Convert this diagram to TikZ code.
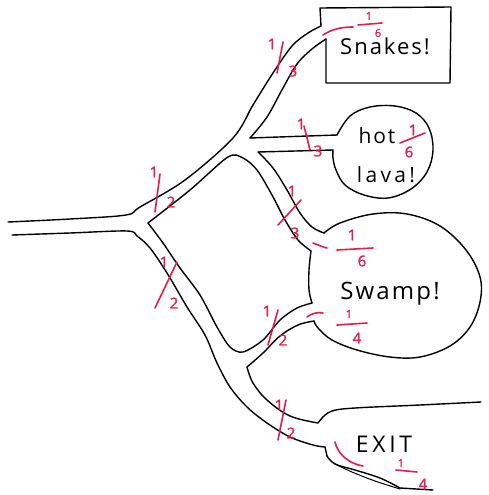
\documentclass[tikz,border=0pt]{standalone}
\usepackage{fontspec}
\setmainfont{Open Sans}
\newfontfamily\handfont[LetterSpace=9]{Open Sans}
\newfontfamily\widehand[LetterSpace=16]{Open Sans}
\newfontfamily\digitfont[FakeBold=1.5]{Open Sans}
\definecolor{redink}{RGB}{228,30,72}
\tikzset{
  ink/.style={line width=1.4pt, line cap=round, line join=round},
  pen/.style={draw=redink, line width=1.6pt, line cap=round},
  word/.style={font=\handfont\fontsize{21}{23}\selectfont, inner sep=0pt, anchor=base},
  digit/.style={text=redink, font=\digitfont\fontsize{15}{15}\selectfont, inner sep=0pt},
  digitsm/.style={digit, font=\digitfont\fontsize{11}{11}\selectfont},
}
\begin{document}
\begin{tikzpicture}[x=1pt,y=-1pt]
\useasboundingbox (0,0) rectangle (489,495);
\fill[white] (0,0) rectangle (489,495);

% ---- black walls of the maze ----
% entrance top wall, running up into the snakes room
\draw[ink] plot[smooth,tension=0.55] coordinates {(8,222) (70,219) (126,215) (140,207) (185,180) (233,138) (253,105) (273,73) (292,46) (308,33) (321,26)};
% snakes room
\draw[ink] (321,26) -- (320,8) -- (451,7) -- (450,83) -- (326,83) -- (326,39);
\draw[ink] plot[smooth,tension=0.6] coordinates {(250,138) (267,117) (283,88) (297,64) (312,49) (326,39)};
% hot lava passage and bubble
\draw[ink] (250,138) -- (337,135);
\draw[ink] (258,152) -- (333,150);
\draw[ink] plot[smooth,tension=0.6] coordinates {(337,135) (350,116) (370,107) (395,106) (416,113) (429,128) (433,150) (427,172) (411,189) (388,198) (364,195) (345,185) (336,170) (333,158) (333,150)};
% upper fork, inner wall, down to the swamp
\draw[ink] plot[smooth,tension=0.5] coordinates {(148,223) (190,190) (228,157) (243,158) (257,170) (272,195) (285,220) (298,240) (311,251)};
\draw[ink] plot[smooth,tension=0.6] coordinates {(258,152) (273,168) (287,190) (300,213) (312,227) (324,233)};
% swamp
\draw[ink] plot[smooth,tension=0.6] coordinates {(324,233) (340,223) (373,214) (407,214) (440,226) (466,250) (480,277) (480,302) (470,327) (450,346) (420,357) (390,357) (357,350) (332,340) (318,328) (314,321)};
\draw[ink] plot[smooth,tension=0.6] coordinates {(311,251) (309,270) (309,290) (312,303)};
% inner island, lower edge
\draw[ink] plot[smooth,tension=0.5] coordinates {(312,303) (297,308) (280,320) (263,340) (243,352) (230,347) (217,327) (200,295) (180,268) (163,243) (148,223)};
% lower swamp passage and exit
\draw[ink] plot[smooth,tension=0.6] coordinates {(314,321) (298,325) (280,336) (263,353) (247,367)};
\draw[ink] plot[smooth,tension=0.6] coordinates {(247,367) (253,383) (267,400) (290,416) (318,423)} -- (322,418);
\draw[ink] plot[smooth,tension=0.6] coordinates {(322,418) (332,411) (355,408) (420,405) (481,402)};
% entrance bottom wall, running down to the exit
\draw[ink] plot[smooth,tension=0.55] coordinates {(12,235) (70,233) (127,231) (137,236) (150,248) (167,273) (187,307) (205,335) (217,363) (230,387) (247,407) (267,423) (290,437) (313,445) (325,447)} -- (327,456);
\draw[ink] plot[smooth,tension=0.6] coordinates {(327,456) (335,464) (355,470) (380,478) (400,488)} -- (433,490);
\draw[ink, line width=1pt] plot[smooth,tension=0.6] coordinates {(335,464) (352,472) (375,481) (400,489)};

% ---- room labels ----
\node[word, font=\handfont\fontsize{22}{24}\selectfont] (snakes) at (385,55) {Snakes!};
\node[word] (hot) at (377,143) {hot};
\node[word, font=\widehand\fontsize{21}{23}\selectfont] (lava) at (386,182) {lava!};
\node[word, font=\handfont\fontsize{24}{26}\selectfont] (swamp) at (390,299) {Swamp!};
\node[word, font=\widehand\fontsize{23}{25}\selectfont] (exit) at (384,452) {EXIT};

% ---- red probabilities ----
% snakes passage 1/3
\node[digit] (a1) at (272,44) {1};
\draw[pen] (283,42) -- (277,73);
\node[digit] (a3) at (293,71) {3};
% snakes room 1/6
\draw[pen] (323,35) .. controls (332,29) and (342,27) .. (353,27);
\node[digitsm] (b1) at (369,16) {1};
\draw[pen] (358,25) -- (382,23);
\node[digitsm] (b6) at (378,33) {6};
% lava passage 1/3
\node[digit] (c1) at (301,124) {1};
\draw[pen] (304,126) -- (310,150);
\node[digit] (c3) at (318,151) {3};
% lava 1/6
\node[digit] (d1) at (413,130) {1};
\draw[pen] (400,143) -- (425,133);
\node[digit] (d6) at (409,152) {6};
% upper fork 1/2
\node[digit] (e1) at (154,172) {1};
\draw[pen] (160,174) -- (155,212);
\node[digit] (e2) at (171,202) {2};
% lower fork 1/2
\node[digit] (f1) at (164,262) {1};
\draw[pen] (177,262) -- (155,308);
\node[digit] (f2) at (174,303) {2};
% swamp passage 1/3
\node[digit] (g1) at (292,191) {1};
\draw[pen] (301,200) -- (278,225);
\node[digit] (g3) at (295,233) {3};
% swamp 1/6
\draw[pen] (313,243) .. controls (318,245) and (323,247) .. (327,248);
\node[digit] (h1) at (352,235) {1};
\draw[pen] (337,250) -- (373,248);
\node[digit] (h6) at (362,261) {6};
% lower swamp passage 1/2
\node[digit] (i1) at (267,311) {1};
\draw[pen] (278,310) -- (268,345);
\node[digit] (i2) at (283,340) {2};
% swamp 1/4
\draw[pen] (307,317) .. controls (312,313) and (318,312) .. (323,313);
\node[digitsm] (j1) at (349,314) {1};
\draw[pen] (337,325) -- (367,323);
\node[digit] (j4) at (357,338) {4};
% exit passage 1/2
\node[digit] (k1) at (279,405) {1};
\draw[pen] (286,400) -- (278,440);
\node[digit] (k2) at (291,433) {2};
% exit 1/4
\draw[pen] (335,442) .. controls (338,455) and (350,464) .. (363,466);
\node[digitsm] (l1) at (401,463) {1};
\draw[pen] (396,470) -- (417,472);
\node[digit] (l4) at (423,484) {4};
\end{tikzpicture}
\end{document}
